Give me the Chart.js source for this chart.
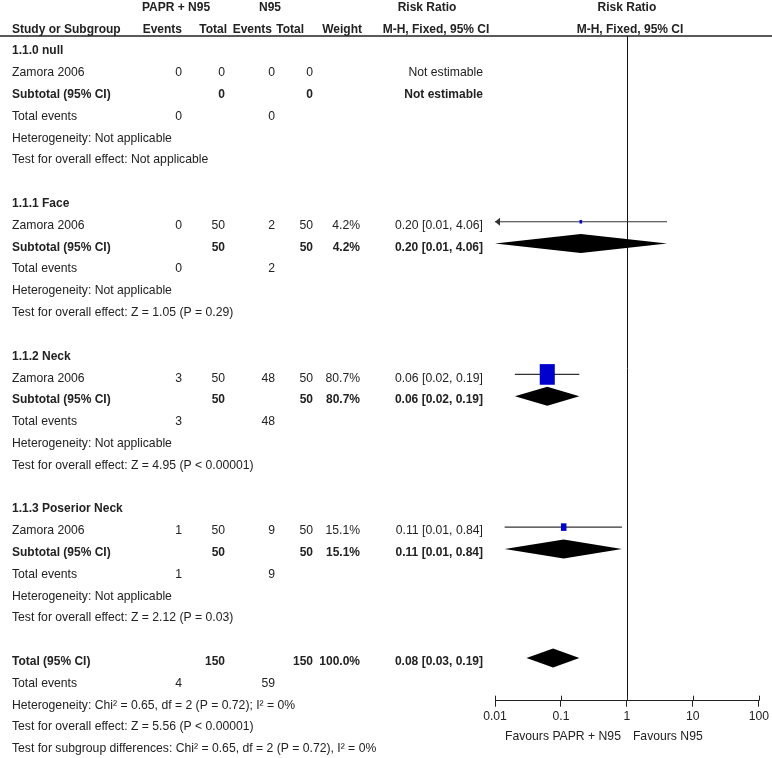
<!DOCTYPE html>
<html><head><meta charset="utf-8">
<script src="https://cdn.jsdelivr.net/npm/chart.js@4/dist/chart.umd.min.js"></script>
<style>html,body{margin:0;padding:0;background:#fff}canvas{display:block}</style>
</head><body>
<canvas id="c" width="772" height="758"></canvas>
<script>
// ---------- DATA ----------
const subgroups = ['1.1.0 null', '1.1.1 Face', '1.1.2 Neck', '1.1.3 Poserior Neck'];
const studyNames = ['Zamora 2006', 'Zamora 2006', 'Zamora 2006', 'Zamora 2006'];
const paprEvents = [0, 0, 3, 1];
const paprTotal = [0, 50, 50, 50];
const n95Events = [0, 2, 48, 9];
const n95Total = [0, 50, 50, 50];
const weights = [null, 4.2, 80.7, 15.1];
const riskRatio = [null, 0.20, 0.062, 0.11];
const ciLow = [null, 0.0098, 0.02, 0.014];
const ciHigh = [null, 4.06, 0.19, 0.84];
const heterogeneityText = ['Not applicable', 'Not applicable', 'Not applicable', 'Not applicable'];
const overallEffectText = ['Not applicable', 'Z = 1.05 (P = 0.29)', 'Z = 4.95 (P < 0.00001)', 'Z = 2.12 (P = 0.03)'];
const totalEvents = [4, 59];
const totalN = [150, 150];
const totalWeight = 100.0;
const totalRR = [0.076, 0.03, 0.19];
const totalHeterogeneity = 'Heterogeneity: Chi² = 0.65, df = 2 (P = 0.72); I² = 0%';
const totalOverall = 'Test for overall effect: Z = 5.56 (P < 0.00001)';
const subgroupDiff = 'Test for subgroup differences: Chi² = 0.65, df = 2 (P = 0.72), I² = 0%';
const tickValues = [0.01, 0.1, 1, 10, 100];
const tickLabels = ['0.01', '0.1', '1', '10', '100'];
const favoursLabels = ['Favours PAPR + N95', 'Favours N95'];

// ---------- LAYOUT / STYLE ----------
const FONT = '"Liberation Sans", Arial, Helvetica, sans-serif';
const TXT = '#222';
const COL = { study: 12, pe: 182, pt: 225, ne: 275, nt: 313, w: 360, rr: 483 };
const BLOCK = 7;          // lines per subgroup block
const TOTAL_ROW = 28;
const MARK_SHIFT = -0.17; // marks sit slightly above the text line

function fmtCI(r, l, h) { return r.toFixed(2) + ' [' + l.toFixed(2) + ', ' + h.toFixed(2) + ']'; }

const forestPlugin = {
  id: 'forest',
  afterDraw(chart) {
    const ctx = chart.ctx, xs = chart.scales.x, ys = chart.scales.y, ca = chart.chartArea;
    const X = v => xs.getPixelForValue(v);
    const Y = r => ys.getPixelForValue(r);
    const xmin = xs.min, xmax = xs.max;
    ctx.save();
    const T = (s, x, row, align, bold) => {
      ctx.font = bold ? ('bold 12px ' + FONT) : ('12.2px ' + FONT);
      ctx.fillStyle = TXT; ctx.textAlign = align; ctx.textBaseline = 'middle';
      ctx.fillText(s, x, Y(row));
    };
    // header line
    ctx.strokeStyle = '#222'; ctx.lineWidth = 1.5;
    ctx.beginPath(); ctx.moveTo(0, ca.top); ctx.lineTo(chart.width, ca.top); ctx.stroke();
    // line of no effect
    ctx.lineWidth = 1; ctx.strokeStyle = '#111';
    const x1 = Math.round(X(1)) + 0.5;
    ctx.beginPath(); ctx.moveTo(x1, ca.top); ctx.lineTo(x1, ca.bottom); ctx.stroke();
    // upper halves of tick marks
    ctx.strokeStyle = '#222';
    tickValues.forEach(v => {
      const x = Math.round(X(v)) + 0.5;
      ctx.beginPath(); ctx.moveTo(x, ca.bottom - 5); ctx.lineTo(x, ca.bottom); ctx.stroke();
    });

    // headers
    T('PAPR + N95', 176, -2, 'center', true);
    T('N95', 270, -2, 'center', true);
    T('Risk Ratio', 427, -2, 'center', true);
    T('Risk Ratio', X(1), -2, 'center', true);
    T('Study or Subgroup', COL.study, -1, 'left', true);
    T('Events', 182, -1, 'right', true);
    T('Total', 227, -1, 'right', true);
    T('Events', 272, -1, 'right', true);
    T('Total', 304, -1, 'right', true);
    T('Weight', 362, -1, 'right', true);
    T('M-H, Fixed, 95% CI', 436, -1, 'center', true);
    T('M-H, Fixed, 95% CI', 630, -1, 'center', true);

    const diamond = (r, lo, hi, row) => {
      const h = 9.5, yc = Y(row + MARK_SHIFT);
      ctx.fillStyle = '#000';
      ctx.beginPath();
      ctx.moveTo(X(Math.max(lo, xmin)), yc);
      ctx.lineTo(X(r), yc - h);
      ctx.lineTo(X(Math.min(hi, xmax)), yc);
      ctx.lineTo(X(r), yc + h);
      ctx.closePath(); ctx.fill();
    };

    subgroups.forEach((name, g) => {
      const base = g * BLOCK;
      T(name, COL.study, base, 'left', true);
      // study row
      T(studyNames[g], COL.study, base + 1, 'left', false);
      T(String(paprEvents[g]), COL.pe, base + 1, 'right', false);
      T(String(paprTotal[g]), COL.pt, base + 1, 'right', false);
      T(String(n95Events[g]), COL.ne, base + 1, 'right', false);
      T(String(n95Total[g]), COL.nt, base + 1, 'right', false);
      const est = riskRatio[g] !== null;
      if (est) T(weights[g].toFixed(1) + '%', COL.w, base + 1, 'right', false);
      T(est ? fmtCI(riskRatio[g], ciLow[g], ciHigh[g]) : 'Not estimable', COL.rr, base + 1, 'right', false);
      // subtotal row
      T('Subtotal (95% CI)', COL.study, base + 2, 'left', true);
      T(String(paprTotal[g]), COL.pt, base + 2, 'right', true);
      T(String(n95Total[g]), COL.nt, base + 2, 'right', true);
      if (est) T(weights[g].toFixed(1) + '%', COL.w, base + 2, 'right', true);
      T(est ? fmtCI(riskRatio[g], ciLow[g], ciHigh[g]) : 'Not estimable', COL.rr, base + 2, 'right', true);
      // total events etc.
      T('Total events', COL.study, base + 3, 'left', false);
      T(String(paprEvents[g]), COL.pe, base + 3, 'right', false);
      T(String(n95Events[g]), COL.ne, base + 3, 'right', false);
      T('Heterogeneity: ' + heterogeneityText[g], COL.study, base + 4, 'left', false);
      T('Test for overall effect: ' + overallEffectText[g], COL.study, base + 5, 'left', false);

      if (est) {
        const yc = Y(base + 1 + MARK_SHIFT);
        const lo = ciLow[g], hi = ciHigh[g];
        const xl = X(Math.max(lo, xmin)), xh = X(Math.min(hi, xmax));
        ctx.strokeStyle = '#333'; ctx.lineWidth = 1.2;
        ctx.beginPath(); ctx.moveTo(xl, yc); ctx.lineTo(xh, yc); ctx.stroke();
        ctx.fillStyle = '#333';
        if (lo < xmin) {
          ctx.beginPath(); ctx.moveTo(xl, yc); ctx.lineTo(xl + 5, yc - 4); ctx.lineTo(xl + 5, yc + 4); ctx.closePath(); ctx.fill();
        }
        if (hi > xmax) {
          ctx.beginPath(); ctx.moveTo(xh, yc); ctx.lineTo(xh - 5, yc - 4); ctx.lineTo(xh - 5, yc + 4); ctx.closePath(); ctx.fill();
        }
        const bh = 1.48 * Math.pow(weights[g], 0.6), bw = 0.73 * bh;
        ctx.fillStyle = '#0000CC';
        ctx.fillRect(X(riskRatio[g]) - bw / 2, yc - bh / 2, bw, bh);
        diamond(riskRatio[g], lo, hi, base + 2);
      }
    });

    // overall total
    const tr = TOTAL_ROW;
    T('Total (95% CI)', COL.study, tr, 'left', true);
    T(String(totalN[0]), COL.pt, tr, 'right', true);
    T(String(totalN[1]), COL.nt, tr, 'right', true);
    T(totalWeight.toFixed(1) + '%', COL.w, tr, 'right', true);
    T(fmtCI(totalRR[0], totalRR[1], totalRR[2]), COL.rr, tr, 'right', true);
    T('Total events', COL.study, tr + 1, 'left', false);
    T(String(totalEvents[0]), COL.pe, tr + 1, 'right', false);
    T(String(totalEvents[1]), COL.ne, tr + 1, 'right', false);
    T(totalHeterogeneity, COL.study, tr + 2, 'left', false);
    T(totalOverall, COL.study, tr + 3, 'left', false);
    T(subgroupDiff, COL.study, tr + 4, 'left', false);
    diamond(totalRR[0], totalRR[1], totalRR[2], tr);

    // favours labels
    ctx.font = '12.2px ' + FONT; ctx.fillStyle = TXT; ctx.textBaseline = 'middle';
    ctx.textAlign = 'right'; ctx.fillText(favoursLabels[0], X(1) - 6, ca.bottom + 36);
    ctx.textAlign = 'left'; ctx.fillText(favoursLabels[1], X(1) + 6, ca.bottom + 36);
    ctx.restore();
  }
};

new Chart(document.getElementById('c'), {
  type: 'scatter',
  data: { datasets: [{ data: [] }] },
  options: {
    responsive: false,
    animation: false,
    events: [],
    layout: { padding: { left: 495, right: 12, top: 36, bottom: 0 } },
    plugins: { legend: { display: false }, tooltip: { enabled: false }, title: { display: false } },
    scales: {
      x: {
        type: 'logarithmic', position: 'bottom', min: 0.01, max: 100,
        afterBuildTicks: s => { s.ticks = tickValues.map(v => ({ value: v })); },
        afterFit: s => { s.height = 57.3; },
        ticks: {
          autoSkip: false, maxRotation: 0, color: TXT,
          font: { family: FONT, size: 12.2 },
          callback: (v, i) => tickLabels[i]
        },
        grid: { display: true, drawOnChartArea: false, tickLength: 6, color: '#222', lineWidth: 1 },
        border: { display: true, color: '#222', width: 1 }
      },
      y: { type: 'linear', reverse: true, min: -0.688, max: 29.79, display: false }
    }
  },
  plugins: [forestPlugin]
});
</script>
</body></html>
